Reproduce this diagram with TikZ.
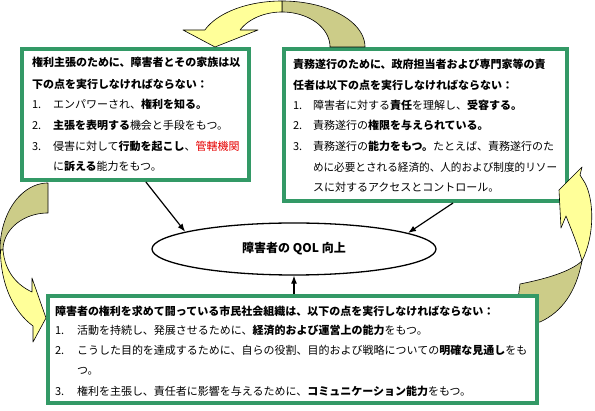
\documentclass[tikz,border=0pt]{standalone}
\usepackage{fontspec}
\usepackage{graphicx}
\setmainfont{Noto Sans CJK JP}
\usetikzlibrary{shapes.geometric,arrows.meta,calc}
\definecolor{boxgreen}{RGB}{51,153,102}
\definecolor{arrowlight}{RGB}{255,255,153}
\definecolor{arrowdark}{RGB}{204,204,136}
\definecolor{txtred}{RGB}{230,0,0}
\begin{document}
\begin{tikzpicture}[x=1pt,y=-1pt,
  greenbox/.style={draw=boxgreen, line width=4pt, fill=white, rectangle, inner sep=0pt},
  curvearrow/.style={draw=black, line width=0.6pt, line join=round},
  txt/.style={anchor=base west, inner sep=0pt, outer sep=0pt, font=\fontsize{11pt}{13pt}\selectfont},
  hd/.style={txt, font=\fontsize{11pt}{13pt}\selectfont\bfseries},
  conn/.style={line width=1.2pt, -{Latex[length=8pt,width=6pt]}},
]
\useasboundingbox (0,0) rectangle (595,411);
% upper boxes
\node[greenbox, minimum width=227pt, minimum height=131pt] (L) at (135.5,114.5) {};
\node[greenbox, minimum width=283pt, minimum height=152pt] (R) at (425.5,125) {};
% top curved arrow
\filldraw[curvearrow, fill=arrowdark] plot[domain=270:360, samples=40, variable=\t] ({282+83*cos(\t)},{47+46*sin(\t)}) -- (330,47) -- plot[domain=360:270, samples=40, variable=\t] ({282+48*cos(\t)},{47+35*sin(\t)}) -- cycle;
\filldraw[curvearrow, fill=arrowlight] (282,1) -- plot[domain=270:201.7, samples=40, variable=\t] ({282+83*cos(\t)},{47+46*sin(\t)}) -- (183,30) -- (215,47) -- (258,30) -- (240.1,30) -- plot[domain=209.1:270, samples=40, variable=\t] ({282+48*cos(\t)},{47+35*sin(\t)}) -- cycle;
% left curved arrow
\filldraw[curvearrow, fill=arrowdark] plot[domain=270:180, samples=40, variable=\t] ({48+48*cos(\t)},{250+67*sin(\t)}) -- plot[domain=180:270, samples=40, variable=\t] ({48+45*cos(\t)},{250+37*sin(\t)}) -- cycle;
\filldraw[curvearrow, fill=arrowlight] (0.5,250) .. controls (0.5,285) and (14,312) .. (33,326) -- (33,342) -- (46,318) -- (32,278) -- (32,292) .. controls (17,285) and (5,272) .. (3,250) -- cycle;
% right curved arrow
\filldraw[curvearrow, fill=arrowdark] (520,284) .. controls (545,279) and (570,272) .. (582,261) .. controls (576,292) and (562,312) .. (540,322) -- (515,322) -- cycle;
\filldraw[curvearrow, fill=arrowlight] (582,261) .. controls (578,245) and (571,229) .. (566,216) -- (561,228) -- (559,190) -- (582,167) -- (580,175) -- (585,183) .. controls (594,200) and (595,235) .. (582,261) -- cycle;
% bottom box
\node[greenbox, minimum width=489pt, minimum height=107pt] (B) at (292.5,349.5) {};
% central ellipse
\node[draw, ellipse, line width=1.3pt, fill=white, minimum width=284pt, minimum height=52pt, inner sep=0pt, font=\fontsize{12pt}{14pt}\selectfont\bfseries] (E) at (294,249) {障害者の QOL 向上};
% connectors
\coordinate (ls) at ($(L.south west)!0.545!(L.south east)$);
\coordinate (rs) at ($(R.south west)!0.596!(R.south east)$);
\draw[conn] (ls) -- (E.171.6);
\draw[conn] (rs) -- (E.8.4);
\draw[conn] (B.north -| E.south) -- (E.south);
% left box text
\node[hd] (l1) at (32,67) {権利主張のために、障害者とその家族は以};
\node[hd] (l2) at (32,89) {下の点を実行しなければならない：};
\node[txt] (l3n) at (32,109) {1.};
\node[txt] (l3) at (53,109) {エンパワーされ、\textbf{権利を知る。}};
\node[txt] (l4n) at (32,130) {2.};
\node[txt] (l4) at (53,130) {\textbf{主張を表明する}機会と手段をもつ。};
\node[txt] (l5n) at (32,151) {3.};
\node[txt] (l5) at (53,151) {侵害に対して\textbf{行動を起こし}、\textcolor{txtred}{管轄機関}};
\node[txt] (l6) at (53,171) {に\textbf{訴える}能力をもつ。};
% right box text
\node[hd] (r1) at (293,69) {責務遂行のために、政府担当者および専門家等の責};
\node[hd] (r2) at (293,90) {任者は以下の点を実行しなければならない：};
\node[txt] (r3n) at (293,110) {1.};
\node[txt] (r3) at (313,110) {障害者に対する\textbf{責任}を理解し、\textbf{受容する。}};
\node[txt] (r4n) at (293,130) {2.};
\node[txt] (r4) at (313,130) {責務遂行の\textbf{権限を与えられている。}};
\node[txt] (r5n) at (293,151) {3.};
\node[txt] (r5) at (313,151) {責務遂行の\textbf{能力をもつ。}たとえば、責務遂行のた};
\node[txt] (r6) at (313,172) {\scalebox{0.965}[1]{めに必要とされる経済的、人的および制度的リソー}};
\node[txt] (r7) at (313,192) {スに対するアクセスとコントロール。};
% bottom box text
\node[hd] (b1) at (55,316) {障害者の権利を求めて闘っている市民社会組織は、以下の点を実行しなければならない：};
\node[txt] (b2n) at (55,335) {1.};
\node[txt] (b2) at (77,335) {活動を持続し、発展させるために、\textbf{経済的および運営上の能力}をもつ。};
\node[txt] (b3n) at (55,355) {2.};
\node[txt] (b3) at (77,355) {こうした目的を達成するために、自らの役割、目的および戦略についての\textbf{明確な見通し}をも};
\node[txt] (b4) at (77,375) {つ。};
\node[txt] (b5n) at (55,396) {3.};
\node[txt] (b5) at (77,396) {権利を主張し、責任者に影響を与えるために、\textbf{コミュニケーション能力}をもつ。};
\end{tikzpicture}
\end{document}
